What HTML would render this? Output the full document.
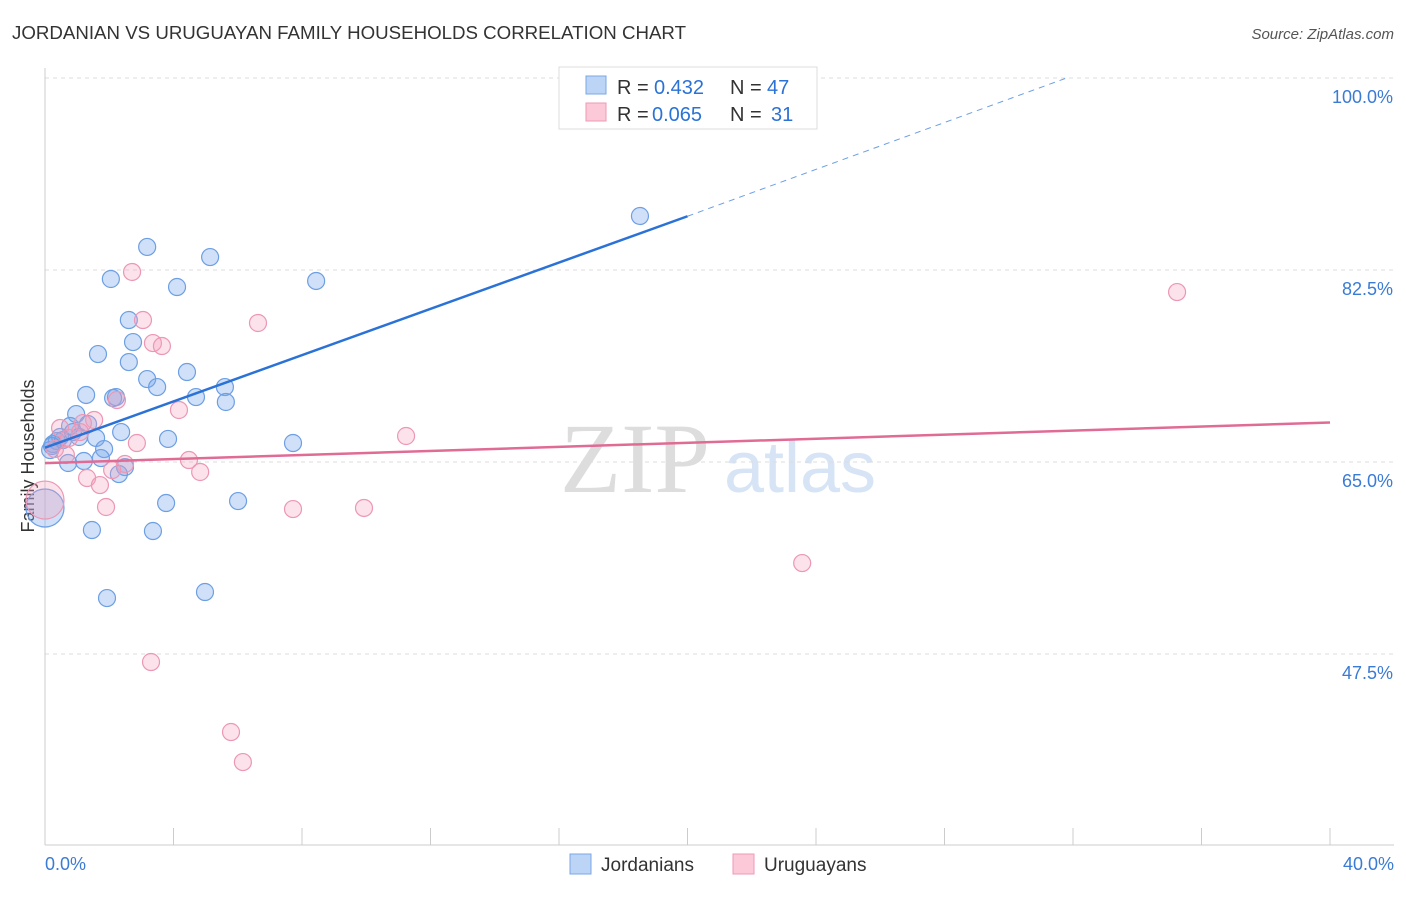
<!DOCTYPE html>
<html><head><meta charset="utf-8"><style>
body{margin:0;background:#fff;font-family:"Liberation Sans",sans-serif}
</style></head><body>
<svg id="c" width="1406" height="892" xmlns="http://www.w3.org/2000/svg">
<text x="12" y="39" font-size="18" fill="#333" textLength="674" lengthAdjust="spacingAndGlyphs">JORDANIAN VS URUGUAYAN FAMILY HOUSEHOLDS CORRELATION CHART</text>
<text x="1394" y="39" font-size="15" fill="#555" font-style="italic" text-anchor="end">Source: ZipAtlas.com</text>
<text x="635" y="492" font-size="100" fill="#ddd" font-family="Liberation Serif" text-anchor="middle">ZIP</text>
<text x="800" y="492" font-size="72" fill="#d6e4f5" text-anchor="middle">atlas</text>
<text transform="translate(34,456) rotate(-90)" font-size="18" fill="#333" text-anchor="middle">Family Households</text>
<g id="grid"></g><g id="pts"></g><g id="lines"></g>
<g>
<rect x="559" y="67" width="258" height="62" fill="#fff" stroke="#ddd"/>
<rect x="586" y="76" width="20" height="18" fill="#bcd4f5" stroke="#7aa7e6"/>
<rect x="586" y="103" width="20" height="18" fill="#fcc9d8" stroke="#ee9ab6"/>
<text x="617" y="94" font-size="20" fill="#333">R =</text><text x="654" y="94" font-size="20" fill="#2b72d6">0.432</text>
<text x="730" y="94" font-size="20" fill="#333">N =</text><text x="767" y="94" font-size="20" fill="#2b72d6">47</text>
<text x="617" y="121" font-size="20" fill="#333">R =</text><text x="652" y="121" font-size="20" fill="#2b72d6">0.065</text>
<text x="730" y="121" font-size="20" fill="#333">N =</text><text x="771" y="121" font-size="20" fill="#2b72d6">31</text>
</g>
<g>
<rect x="570" y="854" width="21" height="20" fill="#bcd4f5" stroke="#7aa7e6"/>
<text x="601" y="871" font-size="19" fill="#333">Jordanians</text>
<rect x="733" y="854" width="21" height="20" fill="#fcc9d8" stroke="#ee9ab6"/>
<text x="764" y="871" font-size="19" fill="#333">Uruguayans</text>
</g>
</svg>
<script>
const yTicks=[100,82.5,65,47.5];
const yTickLabels=["100.0%","82.5%","65.0%","47.5%"];
const xTickLabels=["0.0%","40.0%"];
const blueX=[18.52,3.18,5.14,2.05,4.11,8.44,2.61,2.74,1.65,2.61,3.18,4.42,3.49,5.60,1.28,2.21,2.12,4.70,5.63,0.97,1.34,2.37,0.78,0.47,1.06,1.59,3.83,7.72,0.25,0.37,1.84,0.16,1.74,1.21,0.72,2.49,2.30,3.77,6.01,1.46,3.36,1.93,4.98,0,0.56,0.22,0.87];
const blueY=[87.42,84.60,83.68,81.68,80.95,81.50,77.94,75.93,74.84,74.11,72.56,73.20,71.83,71.83,71.11,70.92,70.83,70.92,70.47,69.37,68.46,67.73,68.28,67.28,67.28,67.19,67.10,66.73,66.64,66.91,66.18,66.09,65.36,65.09,64.91,64.54,63.90,61.26,61.44,58.80,58.71,52.60,53.15,60.81,67.00,66.46,67.73];
const pinkX=[35.24,2.71,3.05,6.63,3.36,3.64,4.17,2.24,1.53,0.47,1.18,0.75,2.86,11.24,0.31,4.48,2.49,4.83,2.09,1.31,1.71,1.90,7.72,9.93,23.57,3.30,5.79,6.16,0,0.65,1.09];
const pinkY=[80.49,82.32,77.94,77.67,75.84,75.57,69.74,70.65,68.83,68.10,68.55,67.19,66.73,67.37,66.18,65.18,64.82,64.09,64.27,63.54,62.90,60.90,60.71,60.81,55.79,46.77,40.39,37.65,61.53,65.64,67.73];
const blueLine=[[0,66.3],[20,87.4]], blueDash=[[20,87.4],[31.8,100]];
const pinkLine=[[0,64.9],[40,68.6]];
const NS="http://www.w3.org/2000/svg";
const sx=v=>45+v/40*1285, sy=v=>78+(100-v)/17.5*192;
function mk(p,t,a){const e=document.createElementNS(NS,t);for(const k in a)e.setAttribute(k,a[k]);p.appendChild(e);return e;}
const g=document.getElementById('grid');
yTicks.forEach((t,i)=>{
 const l=mk(g,'line',{x1:45,x2:1394,y1:sy(t),y2:sy(t),stroke:'#ddd','stroke-dasharray':'4,4'});
 
 
 const tx=mk(g,'text',{x:1393,y:sy(t)+25,'font-size':18,fill:'#3a7bd5','text-anchor':'end'});
 tx.textContent=yTickLabels[i];
 
 
});
const ax=mk(g,'line',{x1:45,x2:45,y1:68,y2:845,stroke:'#ccc'});


const bx=mk(g,'line',{x1:45,x2:1394,y1:845,y2:845,stroke:'#ccc'});


for(let i=0;i<=10;i++){const t=mk(g,'line',{x1:sx(i*4),x2:sx(i*4),y1:828,y2:845,stroke:'#ccc'});
 
 }
[[0,'start',45],[40,'end',1394]].forEach((d,i)=>{const t=mk(g,'text',{x:d[2],y:870,'font-size':18,fill:'#3a7bd5','text-anchor':d[1]});t.textContent=xTickLabels[i];
 
 });
const p=document.getElementById('pts');
function dots(X,Y,fill,st,name){X.forEach((x,i)=>{const big=(x===0);const c=mk(p,'circle',{cx:sx(x),cy:sy(Y[i]),r:big?19:8.5,fill:fill,stroke:st,'stroke-width':1.2});
 
 });}
dots(blueX,blueY,'rgba(120,165,235,0.35)','#6d9fe3','jordanian-point');
dots(pinkX,pinkY,'rgba(245,160,190,0.3)','#ec97b4','uruguayan-point');
const L=document.getElementById('lines');
function ln(d,col,dash,name){const a={x1:sx(d[0][0]),y1:sy(d[0][1]),x2:sx(d[1][0]),y2:sy(d[1][1]),stroke:col,'stroke-width':dash?1:2.5};if(dash)a['stroke-dasharray']='6,5';const e=mk(L,'line',a);
 
 }
ln(blueLine,'#2b72d6',false,'jordanian-trend-line');
ln(blueDash,'#6d9fe3',true,'jordanian-trend-extension');
ln(pinkLine,'#e06b95',false,'uruguayan-trend-line');
</script>
</body></html>
